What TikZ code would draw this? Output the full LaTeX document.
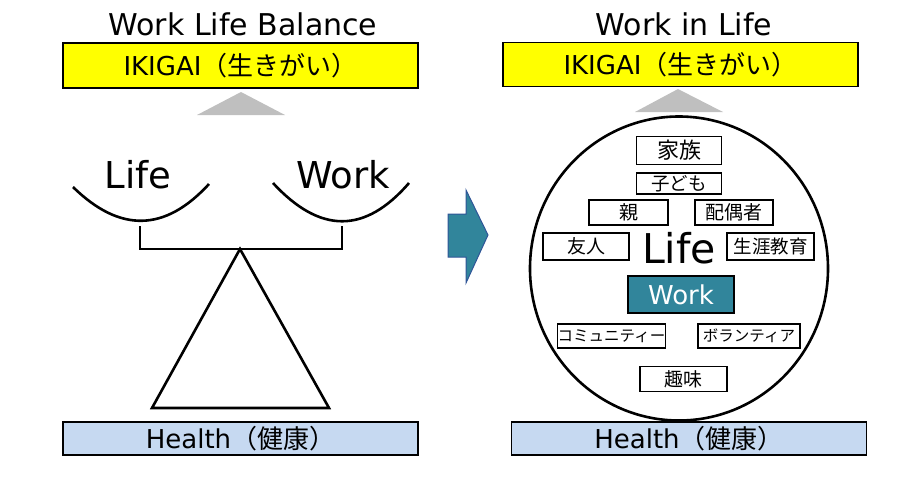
\documentclass[tikz,border=0pt]{standalone}
\usepackage{fontspec}
\setmainfont{DejaVu Sans}
\newfontfamily\cjk{Noto Sans CJK JP}
\usetikzlibrary{positioning,shapes.geometric}
\definecolor{ikigaiyellow}{RGB}{255,255,0}
\definecolor{healthblue}{RGB}{198,217,241}
\definecolor{workteal}{RGB}{49,133,155}
\definecolor{arrowedge}{RGB}{47,85,151}
\newcommand{\fsz}[1]{\fontsize{#1}{#1}\selectfont}

\begin{document}
\begin{tikzpicture}[x=1pt,y=-1pt,
  title/.style={font=\fsz{30}},
  bar/.style={draw=black,line width=1.8pt,minimum width=355pt,inner sep=0pt,font=\fsz{26}},
  pan/.style={line width=2.6pt},
  tag/.style={draw=black,line width=1.3pt,inner sep=0pt,font=\cjk\fsz{19}}]
\useasboundingbox (0,0) rectangle (911,482);

% Work Life Balance
\node[title] (titleL) at (243,24) {Work Life Balance};
\node[bar,fill=ikigaiyellow,minimum height=45pt] (ikigaiL) at (240.5,65.5) {IKIGAI{\cjk（生きがい）}};
\fill[gray!50] (197,115) -- (241,92) -- (285,115) -- cycle;
\node[font=\fsz{37}] (lifeL) at (138,175) {Life};
\node[font=\fsz{37}] (workL) at (343,175) {Work};
\draw[pan] (73,187) .. controls (120,233) and (165,232) .. (209,184);
\draw[pan] (273,183) .. controls (320,234) and (365,234) .. (409,183);
\coordinate (pivot) at (240,249);
\draw[pan] (140,226) |- (pivot) -| (342,226);
\draw[pan,line join=miter] (pivot) -- (329,408) -- (152,408) -- cycle;
\node[bar,fill=healthblue,minimum height=33pt] (healthL) at (240.5,438.5) {Health{\cjk（健康）}};

% arrow
\filldraw[fill=workteal,draw=arrowedge,line width=1pt]
  (448,214) -- (466,214) -- (466,190) -- (488,235) -- (466,283) -- (466,257) -- (448,257) -- cycle;

% Work in Life
\node[title] (titleR) at (684,24) {Work in Life};
\node[bar,fill=ikigaiyellow,minimum height=44pt] (ikigaiR) at (680.5,64.5) {IKIGAI{\cjk（生きがい）}};
\fill[gray!50] (635,112) -- (678,89) -- (723,112) -- cycle;
\node[ellipse,draw,line width=2.6pt,minimum width=298pt,minimum height=304pt] (lifecircle) at (679,268.5) {};
\node[font=\fsz{41},anchor=base] (lifeR) at (679,263) {Life};
\node[tag,font=\cjk\fsz{22},minimum width=85pt,minimum height=28pt] (family) at (679,150.5) {家族};
\node[tag,font=\cjk\fsz{18.5},minimum width=85pt,minimum height=21pt] (children) at (679,183.5) {子ども};
\node[tag,minimum width=79pt,minimum height=25pt] (parents) at (628.5,212.5) {親};
\node[tag,minimum width=78pt,minimum height=25pt] (spouse) at (734,212.5) {配偶者};
\node[tag,minimum width=86pt,minimum height=27pt] (friends) at (586,246.5) {友人};
\node[tag,font=\cjk\fsz{18.5},minimum width=87pt,minimum height=27pt] (learning) at (770.5,246.5) {生涯教育};
\node[draw=black,line width=1.3pt,fill=workteal,text=white,font=\fsz{26},
  minimum width=106pt,minimum height=37pt,inner sep=0pt] (workR) at (681,294.5) {Work};
\node[tag,font=\cjk\fsz{15.5},minimum width=108pt,minimum height=24pt] (community) at (611.5,336) {コミュニティー};
\node[tag,font=\cjk\fsz{15.5},minimum width=102pt,minimum height=24pt] (volunteer) at (749,336) {ボランティア};
\node[tag,minimum width=87pt,minimum height=25pt] (hobby) at (683.5,379) {趣味};
\node[bar,fill=healthblue,minimum height=33pt] (healthR) at (689,438.5) {Health{\cjk（健康）}};
\end{tikzpicture}
\end{document}
